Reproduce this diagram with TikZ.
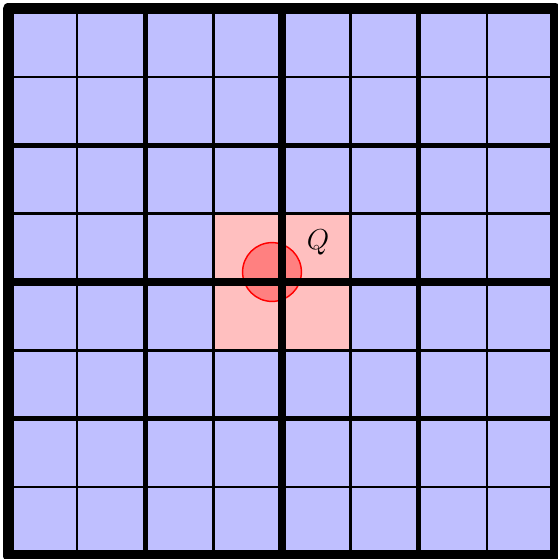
\documentclass[tikz,border=0pt]{standalone}
\begin{document}
\begin{tikzpicture}[x=1cm,y=1cm,
  cellblue/.style={fill=blue!25},
  cellred/.style={fill=red!25},
  thinline/.style={line width=1pt},
  midline/.style={line width=2pt},
  centerline/.style={line width=3.6pt},
  outerline/.style={line width=4.6pt, line join=round}]
\useasboundingbox (-4.123,-4.05) rectangle (4.035,4.123);
\fill[cellblue] (-4,-4) rectangle (4,4);
\fill[cellred] (-1,-1) rectangle (1,1);
\draw[thinline] (-4,-4) grid (4,4);
\filldraw[fill=red!50, draw=red, line width=0.6pt] (-0.146,0.146) circle (0.43);
\foreach \v in {-2,2} {
  \draw[midline] (\v,-4) -- (\v,4);
  \draw[midline] (-4,\v) -- (4,\v);
}
\draw[centerline] (0,-4) -- (0,4);
\draw[centerline] (-4,0) -- (4,0);
\draw[outerline] (-4,-4) rectangle (4,4);
\node (q) at (0.526,0.585) {\large $Q$};
\end{tikzpicture}
\end{document}
